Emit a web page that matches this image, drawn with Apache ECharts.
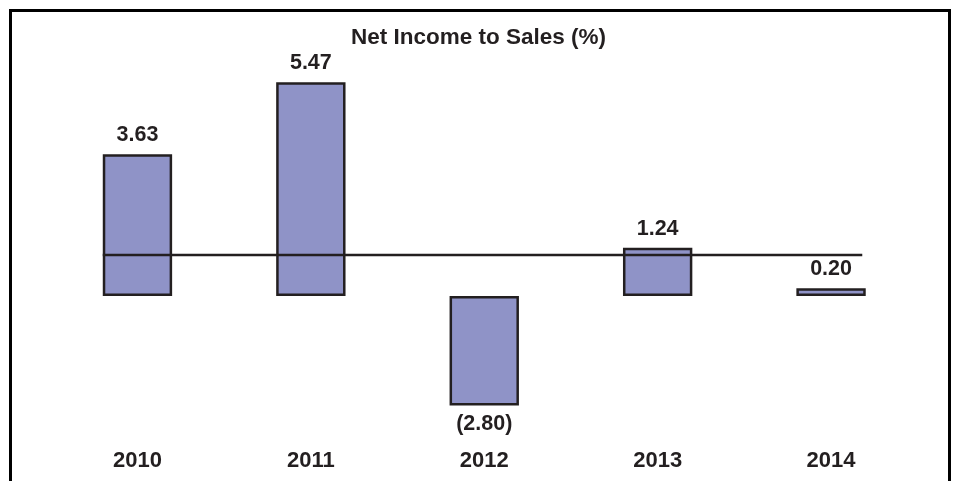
<!DOCTYPE html>
<html>
<head>
<meta charset="utf-8">
<script src="https://cdn.jsdelivr.net/npm/echarts@6/dist/echarts.min.js"></script>
<style>
  html, body { margin: 0; padding: 0; background: #fff; }
  #frame { position: absolute; left: 9px; top: 9px; width: 936px; height: 520px; border: 3px solid #000; }
  #chart { position: absolute; left: 0; top: 0; width: 957px; height: 481px; }
</style>
</head>
<body>
<div id="frame"></div>
<div id="chart"></div>
<script>
const titleText = 'Net Income to Sales (%)';
const categories = ['2010', '2011', '2012', '2013', '2014'];
const netIncomeToSales = [3.63, 5.47, -2.80, 1.24, 0.20];
// Horizontal reference line drawn across the chart (x in category index units, y in %)
const refLineX = [-0.2, 4.18];
const refLineY = [1.05, 1.05];

const textColor = '#231f20';
const fontFamily = '"Liberation Sans", Arial, Helvetica, sans-serif';

function fmt(v) {
  return v < 0 ? '(' + Math.abs(v).toFixed(2) + ')' : v.toFixed(2);
}

const chart = echarts.init(document.getElementById('chart'));
chart.setOption({
  animation: false,
  backgroundColor: 'transparent',
  title: {
    text: titleText,
    left: 'center',
    top: 21,
    textStyle: { fontFamily: fontFamily, fontSize: 22.5, fontWeight: 'bold', color: textColor }
  },
  grid: { left: 50.75, right: 39.25, top: 61.6, bottom: 48.1, containLabel: false },
  xAxis: [
    {
      type: 'category',
      data: categories,
      axisLine: { show: false, onZero: false },
      axisTick: { show: false },
      splitLine: { show: false },
      axisLabel: {
        margin: 17,
        fontFamily: fontFamily, fontSize: 22, fontWeight: 'bold', color: textColor
      }
    },
    {
      type: 'value',
      min: -0.5,
      max: 4.5,
      show: false
    }
  ],
  yAxis: {
    type: 'value',
    min: -3.5,
    max: 6,
    show: false,
    splitLine: { show: false }
  },
  series: [
    {
      type: 'bar',
      data: netIncomeToSales.map(v => v < 0
        ? { value: v, label: { position: 'bottom' } }
        : { value: v }),
      barWidth: '40%',
      itemStyle: { color: '#8f93c7', borderColor: textColor, borderWidth: 2.5 },
      label: {
        show: true,
        distance: 8,
        fontFamily: fontFamily, fontSize: 21.5, fontWeight: 'bold', color: textColor,
        formatter: p => fmt(p.value),
        position: 'top'
      },
      z: 2
    },
    {
      type: 'line',
      xAxisIndex: 1,
      yAxisIndex: 0,
      data: refLineX.map((x, i) => [x, refLineY[i]]),
      symbol: 'none',
      lineStyle: { color: textColor, width: 2.5 },
      z: 3,
      silent: true
    }
  ]
});
</script>
</body>
</html>
